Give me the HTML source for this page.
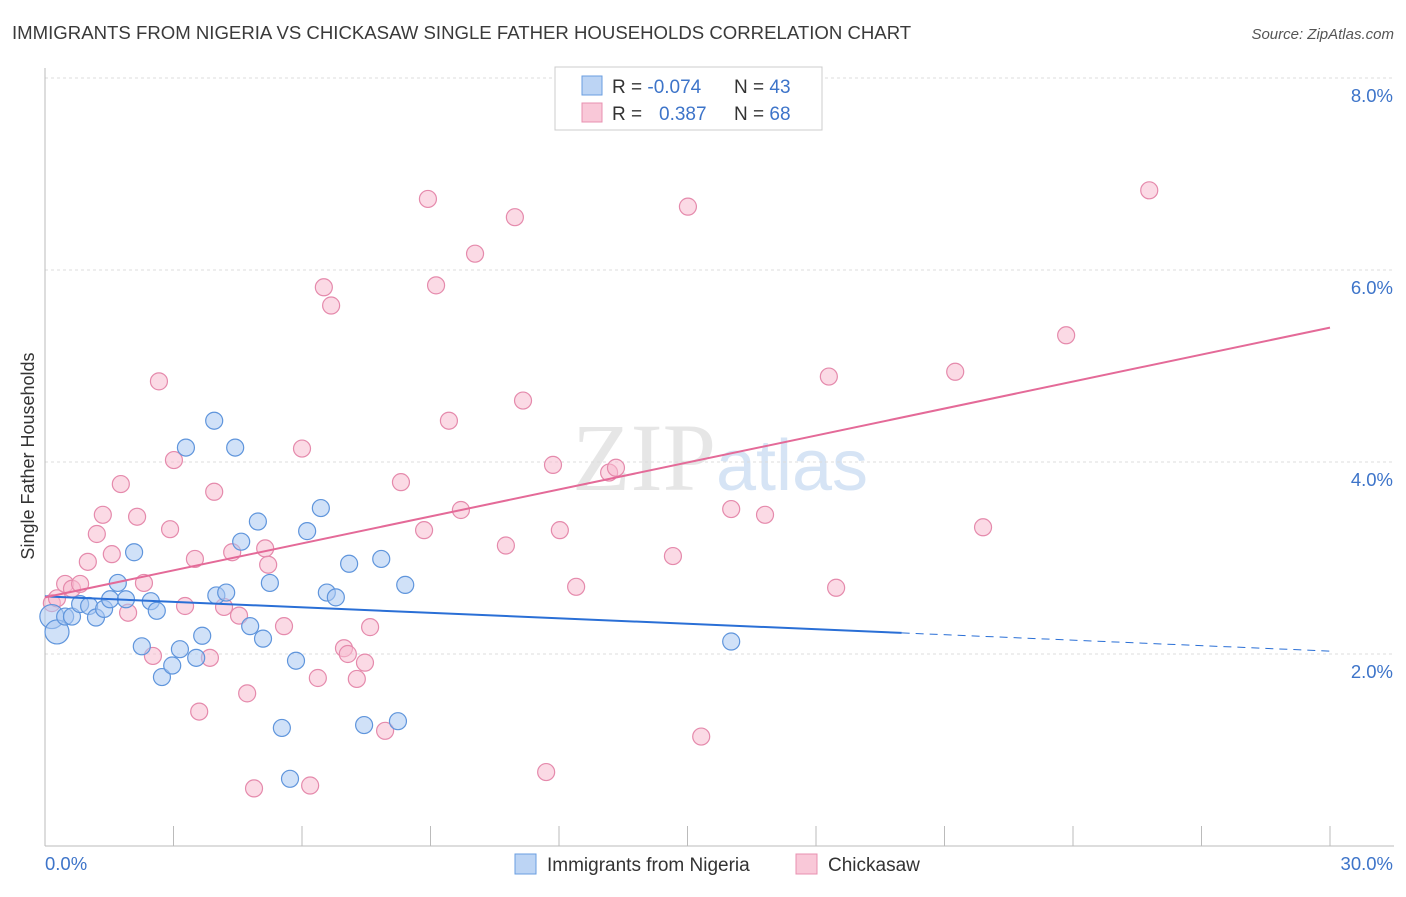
<!DOCTYPE html>
<html><head><meta charset="utf-8">
<style>
body{margin:0;background:#fff;font-family:"Liberation Sans",sans-serif;}
</style></head>
<body>
<svg id="chart" width="1406" height="892" xmlns="http://www.w3.org/2000/svg" font-family="Liberation Sans, sans-serif">
<text x="12" y="39" font-size="18.6" fill="#3a3a3a">IMMIGRANTS FROM NIGERIA VS CHICKASAW SINGLE FATHER HOUSEHOLDS CORRELATION CHART</text>
<text x="1394" y="39" font-size="15" fill="#555" font-style="italic" text-anchor="end">Source: ZipAtlas.com</text>
<text x="720" y="490" font-size="96" fill="#e6e6e6" text-anchor="middle" font-family="Liberation Serif, serif">ZIP<tspan fill="#d6e4f5" font-family="Liberation Sans, sans-serif" font-size="72">atlas</tspan></text>
<g id="grid"></g>
<g id="axes"></g>
<g id="marks"></g>
<g id="lines"></g>
<text transform="translate(34,456) rotate(-90)" font-size="18" fill="#333" text-anchor="middle">Single Father Households</text>
<g>
<rect x="555" y="67" width="267" height="63" fill="#fff" stroke="#ccc"/>
<rect x="582" y="76" width="20" height="19" fill="#bcd4f4" stroke="#6a9ee0"/>
<text x="612" y="93" font-size="19" fill="#333">R = <tspan fill="#3d74c9">-0.074</tspan><tspan x="734">N = </tspan><tspan fill="#3d74c9">43</tspan></text>
<rect x="582" y="103" width="20" height="19" fill="#f9c8d8" stroke="#e890b0"/>
<text x="612" y="120" font-size="19" fill="#333">R = <tspan x="659" fill="#3d74c9">0.387</tspan><tspan x="734">N = </tspan><tspan fill="#3d74c9">68</tspan></text>
</g>
<g>
<rect x="515" y="854" width="21" height="20" fill="#bcd4f4" stroke="#6a9ee0"/>
<text x="547" y="871" font-size="19" fill="#333">Immigrants from Nigeria</text>
<rect x="796" y="854" width="21" height="20" fill="#f9c8d8" stroke="#e890b0"/>
<text x="828" y="871" font-size="19" fill="#333">Chickasaw</text>
</g>
</svg>
<script>
const xTicks=[0,3,6,9,12,15,18,21,24,27,30];
const yTicks=[2,4,6,8];
const yTickLabels=["2.0%","4.0%","6.0%","8.0%"];
const blueX=[0.16,0.28,0.47,0.63,0.82,1.03,1.19,1.38,1.52,1.70,1.89,2.08,2.26,2.47,2.61,2.73,2.97,3.15,3.29,3.53,3.67,3.95,4.00,4.23,4.44,4.58,4.79,4.97,5.09,5.25,5.53,5.72,5.86,6.12,6.44,6.58,6.79,7.10,7.45,7.85,8.24,8.41,16.02];
const blueY=[2.39,2.23,2.39,2.39,2.52,2.50,2.38,2.47,2.57,2.74,2.57,3.06,2.08,2.55,2.45,1.76,1.88,2.05,4.15,1.96,2.19,4.43,2.61,2.64,4.15,3.17,2.29,3.38,2.16,2.74,1.23,0.70,1.93,3.28,3.52,2.64,2.59,2.94,1.26,2.99,1.30,2.72,2.13];
const pinkX=[0.16,0.28,0.47,0.63,0.82,1.00,1.21,1.35,1.56,1.77,1.94,2.15,2.31,2.52,2.66,2.92,3.01,3.27,3.50,3.60,3.85,3.95,4.18,4.37,4.53,4.72,4.88,5.14,5.21,5.58,6.00,6.19,6.37,6.51,6.68,6.98,7.07,7.28,7.47,7.59,7.94,8.31,8.85,8.94,9.13,9.43,9.71,10.04,10.76,10.97,11.16,11.70,11.86,12.02,12.40,13.17,13.33,14.66,15.01,15.32,16.02,16.81,18.30,18.47,21.25,21.90,23.84,25.78];
const pinkY=[2.53,2.58,2.73,2.68,2.73,2.96,3.25,3.45,3.04,3.77,2.43,3.43,2.74,1.98,4.84,3.30,4.02,2.50,2.99,1.40,1.96,3.69,2.49,3.06,2.40,1.59,0.60,3.10,2.93,2.29,4.14,0.63,1.75,5.82,5.63,2.06,2.00,1.74,1.91,2.28,1.20,3.79,3.29,6.74,5.84,4.43,3.50,6.17,3.13,6.55,4.64,0.77,3.97,3.29,2.70,3.89,3.94,3.02,6.66,1.14,3.51,3.45,4.89,2.69,4.94,3.32,5.32,6.83];
const blueTrend=[2.60,2.03];
const blueSolidEnd=[20.0];
const pinkTrend=[2.59,5.40];
const NS="http://www.w3.org/2000/svg";
const X=v=>45+v*(1285/30);
const Y=v=>846-v*96;
function mk(tag,attrs,parent){const e=document.createElementNS(NS,tag);for(const k in attrs)e.setAttribute(k,attrs[k]);parent.appendChild(e);return e;}
const grid=document.getElementById('grid'),axes=document.getElementById('axes'),marks=document.getElementById('marks'),lines=document.getElementById('lines');
yTicks.forEach((t,i)=>{
 const l=mk('line',{x1:45,x2:1394,y1:Y(t),y2:Y(t),stroke:'#dcdcdc','stroke-dasharray':'3,3'},grid);
 
 
 const tx=mk('text',{x:1393,y:Y(t)+24,'font-size':18.5,fill:'#3d74c9','text-anchor':'end'},axes);
 tx.textContent=yTickLabels[i];
 
 
});
const ax=mk('line',{x1:45,x2:45,y1:68,y2:846,stroke:'#bbb'},axes);


const bx=mk('line',{x1:45,x2:1394,y1:846,y2:846,stroke:'#bbb'},axes);


xTicks.forEach(t=>{
 const l=mk('line',{x1:X(t),x2:X(t),y1:826,y2:846,stroke:'#bbb'},axes);
 
 
});
const xl0=mk('text',{x:45,y:870,'font-size':18.5,fill:'#3d74c9'},axes);xl0.textContent=xTicks[0].toFixed(1)+'%';


const xl1=mk('text',{x:1393,y:870,'font-size':18.5,fill:'#3d74c9','text-anchor':'end'},axes);xl1.textContent=xTicks[xTicks.length-1].toFixed(1)+'%';


function dots(xs,ys,fill,stroke,name,bigFirst){
 xs.forEach((x,i)=>{
  const r=(bigFirst&&i<2)?12:8.5;
  const c=mk('circle',{cx:X(x),cy:Y(ys[i]),r:r,fill:fill,'fill-opacity':0.55,stroke:stroke,'stroke-width':1.2},marks);
  
  
 });
}
dots(pinkX,pinkY,'#f7bcd0','#e58aac','chickasaw-point',false);
dots(blueX,blueY,'#a9c9f2','#5f95dc','nigeria-point',true);
const by=x=>blueTrend[0]+(blueTrend[1]-blueTrend[0])*x/30;
const b1=mk('line',{x1:X(0),y1:Y(by(0)),x2:X(blueSolidEnd[0]),y2:Y(by(blueSolidEnd[0])),stroke:'#2a6fd6','stroke-width':2},lines);


const b2=mk('line',{x1:X(blueSolidEnd[0]),y1:Y(by(blueSolidEnd[0])),x2:X(30),y2:Y(by(30)),stroke:'#2a6fd6','stroke-width':1,'stroke-dasharray':'8,6'},lines);


const p1=mk('line',{x1:X(0),y1:Y(pinkTrend[0]),x2:X(30),y2:Y(pinkTrend[1]),stroke:'#e46a98','stroke-width':2},lines);


</script>
</body></html>
